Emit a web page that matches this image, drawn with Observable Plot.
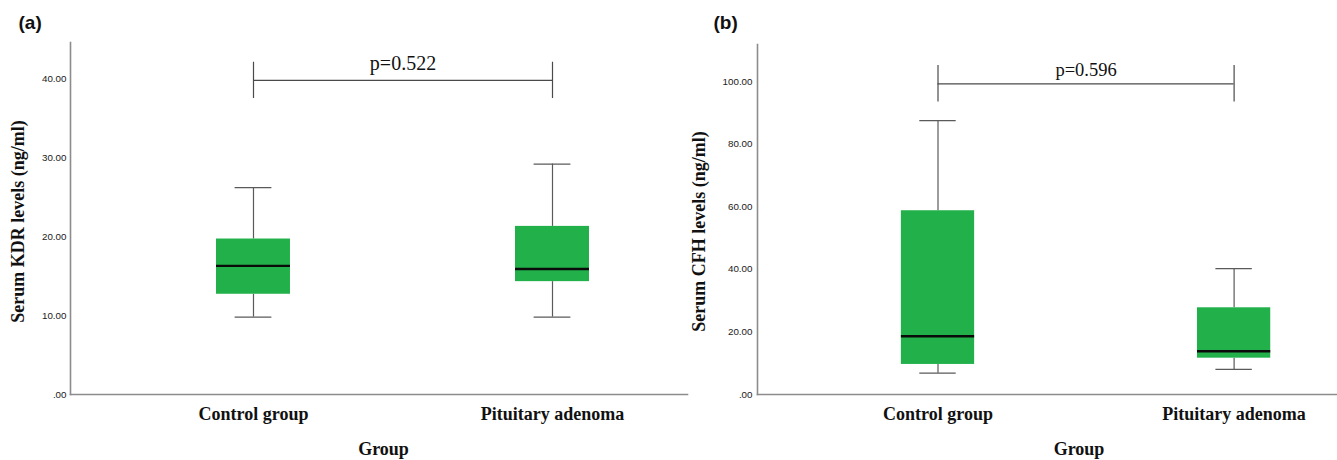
<!DOCTYPE html>
<html>
<head>
<meta charset="utf-8">
<script src="https://cdn.jsdelivr.net/npm/d3@7"></script>
<script src="https://cdn.jsdelivr.net/npm/@observablehq/plot@0.6"></script>
<style>
  html, body { margin: 0; padding: 0; background: #fff; }
  #wrap { position: relative; width: 1337px; height: 460px; overflow: hidden; }
  #panelA { position: absolute; left: 0; top: 0; }
  #panelB { position: absolute; left: 690px; top: 0; }
</style>
</head>
<body>
<div id="wrap"><div id="panelA"></div><div id="panelB"></div></div>
<script>
// ---------- data ----------
const categories = ["Control group", "Pituitary adenoma"];

// Panel (a): Serum KDR (ng/ml)
const kdrLow    = [9.8, 9.8];
const kdrQ1     = [12.7, 14.3];
const kdrMedian = [16.3, 15.9];
const kdrQ3     = [19.7, 21.3];
const kdrHigh   = [26.2, 29.2];
const kdrTicks = [0, 10, 20, 30, 40];
const kdrTickLabels = [".00", "10.00", "20.00", "30.00", "40.00"];
const kdrBracket = [37.5, 39.8, 42.1]; // low end, bar level, high end
const kdrP = "p=0.522";

// Panel (b): Serum CFH (ng/ml)
const cfhLow    = [6.8, 8.0];
const cfhQ1     = [9.6, 11.6];
const cfhMedian = [18.6, 13.8];
const cfhQ3     = [58.7, 27.7];
const cfhHigh   = [87.5, 40.2];
const cfhTicks = [0, 20, 40, 60, 80, 100];
const cfhTickLabels = [".00", "20.00", "40.00", "60.00", "80.00", "100.00"];
const cfhBracket = [93.4, 99.2, 105.1];
const cfhP = "p=0.596";

const xTitle = "Group";

// ---------- drawing ----------
const SERIF = "'Liberation Serif', 'Times New Roman', serif";
const SANS = "'Liberation Sans', Arial, sans-serif";
const GREEN = "#22b04b";
const AXIS = "#8c8c8c";
const WHISK = "#5a5a5a";

function panel(cfg) {
  const idx = categories.map((d, i) => i);
  const box = idx.map(i => ({
    i, low: cfg.low[i], q1: cfg.q1[i], med: cfg.median[i], q3: cfg.q3[i], high: cfg.high[i]
  }));
  const BOX = 0.1237, CAP = 0.0615;
  const br = {low: cfg.bracket[0], y: cfg.bracket[1], high: cfg.bracket[2]};
  return Plot.plot({
    width: cfg.width,
    height: 460,
    marginLeft: cfg.marginLeft,
    marginRight: cfg.marginRight,
    marginTop: cfg.marginTop,
    marginBottom: 66,
    x: {type: "linear", domain: cfg.xDomain, axis: null},
    y: {domain: cfg.yDomain, axis: null},
    style: {background: "transparent", overflow: "visible"},
    marks: [
      Plot.axisY(cfg.ticks, {
        tickSize: 0, tickPadding: cfg.tickPad,
        tickFormat: d => cfg.tickLabels[cfg.ticks.indexOf(d)],
        fontSize: 9.8, fontFamily: SANS, fill: "#1a1a1a", label: null
      }),
      // whiskers
      Plot.ruleX(box, {x: "i", y1: "low", y2: "q1", stroke: WHISK, strokeWidth: 1.2}),
      Plot.ruleX(box, {x: "i", y1: "q3", y2: "high", stroke: WHISK, strokeWidth: 1.2}),
      Plot.ruleY(box, {y: "high", x1: d => d.i - CAP, x2: d => d.i + CAP, stroke: WHISK, strokeWidth: 1.2}),
      Plot.ruleY(box, {y: "low", x1: d => d.i - CAP, x2: d => d.i + CAP, stroke: WHISK, strokeWidth: 1.2}),
      // boxes
      Plot.rect(box, {x1: d => d.i - BOX, x2: d => d.i + BOX, y1: "q1", y2: "q3", fill: GREEN}),
      Plot.ruleY(box, {y: "med", x1: d => d.i - BOX, x2: d => d.i + BOX, stroke: "#0a0a0a", strokeWidth: 2.4}),
      // significance bracket
      Plot.ruleY([br], {y: "y", x1: () => 0, x2: () => 1, stroke: "#4a4a4a", strokeWidth: 1.2}),
      Plot.ruleX(idx, {x: d => d, y1: () => br.low, y2: () => br.high, stroke: "#4a4a4a", strokeWidth: 1.2}),
      Plot.text([cfg.p], {x: () => 0.5, y: () => br.y, text: d => d, lineAnchor: "bottom",
        dy: cfg.pDy, fontSize: cfg.pFont, fontFamily: SERIF, fill: "#111"}),
      // axis lines
      Plot.frame({anchor: "left", stroke: AXIS, strokeWidth: 1.6}),
      Plot.frame({anchor: "bottom", stroke: AXIS, strokeWidth: 1.6}),
      // category labels
      Plot.text(categories, {x: (d, i) => i, text: d => d, frameAnchor: "bottom", lineAnchor: "middle",
        dy: 20, fontSize: 18, fontWeight: "bold", fontFamily: SERIF, fill: "#111"}),
      // x title
      Plot.text([xTitle], {text: d => d, frameAnchor: "bottom", lineAnchor: "middle", dx: cfg.groupDx,
        dy: 55, fontSize: 18, fontWeight: "bold", fontFamily: SERIF, fill: "#111"}),
      // y title
      Plot.text([cfg.yTitle], {text: d => d, frameAnchor: "left", rotate: -90, lineAnchor: "middle",
        textAnchor: "middle", dx: cfg.yTitleDx, dy: cfg.yTitleDy,
        fontSize: 18, fontWeight: "bold", fontFamily: SERIF, fill: "#111"}),
      // panel tag
      Plot.text([cfg.tag], {text: d => d, frameAnchor: "top-left", textAnchor: "start", lineAnchor: "bottom",
        dx: cfg.tagDx, dy: cfg.tagDy, fontSize: 19, fontWeight: "bold", fontFamily: SANS, fill: "#111"})
    ]
  });
}

document.getElementById("panelA").appendChild(panel({
  width: 690, marginLeft: 70, marginRight: 3, marginTop: 42,
  xDomain: [-0.612, 1.4515], yDomain: [0, 44.6],
  low: kdrLow, q1: kdrQ1, median: kdrMedian, q3: kdrQ3, high: kdrHigh,
  ticks: kdrTicks, tickLabels: kdrTickLabels, tickPad: 4,
  bracket: kdrBracket, p: kdrP, pDy: -10, pFont: 20,
  groupDx: 4.5, yTitle: "Serum KDR levels (ng/ml)", yTitleDx: -52, yTitleDy: 3,
  tag: "(a)", tagDx: -52, tagDy: -14
}));

document.getElementById("panelB").appendChild(panel({
  width: 647, marginLeft: 67, marginRight: 1, marginTop: 44,
  xDomain: [-0.6096, 1.3458], yDomain: [0, 111.8],
  low: cfhLow, q1: cfhQ1, median: cfhMedian, q3: cfhQ3, high: cfhHigh,
  ticks: cfhTicks, tickLabels: cfhTickLabels, tickPad: 5,
  bracket: cfhBracket, p: cfhP, pDy: -8, pFont: 18.5,
  groupDx: 32, yTitle: "Serum CFH levels (ng/ml)", yTitleDx: -58, yTitleDy: 12,
  tag: "(b)", tagDx: -44, tagDy: -16
}));
</script>
</body>
</html>
